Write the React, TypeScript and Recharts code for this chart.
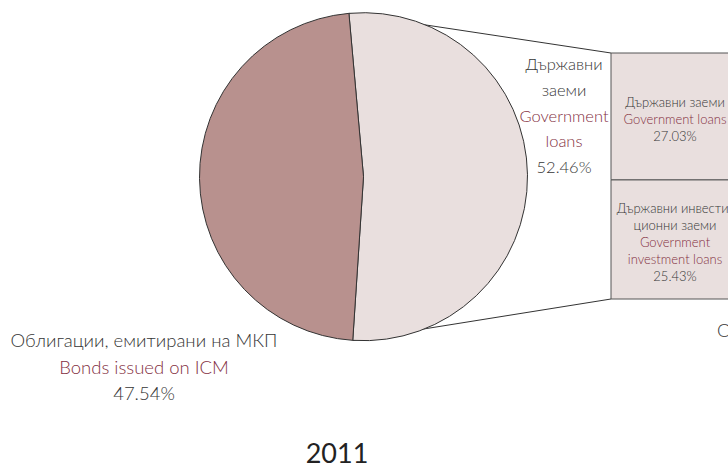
import React from 'react';
import { PieChart, Pie, Cell, BarChart, Bar, XAxis, YAxis } from 'recharts';

const PIE_NAMES = ['Government loans', 'Bonds issued on ICM'];
const PIE_VALUES = [52.46, 47.54];
const PIE_COLORS = ['#E9DFDE', '#B8918E'];

const BAR_KEYS = ['investment', 'loans'];
const BAR_VALUES = [25.43, 27.03];
const BAR_LINES = [
  [
    { t: 'Държавни инвести-', c: 'bg' },
    { t: 'ционни заеми', c: 'bg' },
    { t: 'Government', c: 'en' },
    { t: 'investment loans', c: 'en' },
    { t: '25.43%', c: 'bg' },
  ],
  [
    { t: 'Държавни заеми', c: 'bg' },
    { t: 'Government loans', c: 'en' },
    { t: '27.03%', c: 'bg' },
  ],
];

const LOANS_LABEL = [
  { t: 'Държавни', c: 'bg' },
  { t: 'заеми', c: 'bg' },
  { t: 'Government', c: 'en' },
  { t: 'loans', c: 'en' },
  { t: '52.46%', c: 'bg' },
];
const BONDS_LABEL = [
  { t: 'Облигации, емитирани на МКП', c: 'bg' },
  { t: 'Bonds issued on ICM', c: 'en' },
  { t: '47.54%', c: 'bg' },
];
const YEAR = '2011';

const W = 728;
const H = 470;
const CX = 363.5;
const CY = 176.7;
const R = 164;
const START = 95.1;
const BAR_LEFT = 611;
const BAR_TOP = 53;
const BAR_BOTTOM = 299;

const INK = '#363636';
const WINE = '#84303F';
const FONT = 'Lato, "Open Sans", sans-serif';

const pieData = PIE_NAMES.map((name, i) => ({ name, value: PIE_VALUES[i] }));
const barRow: Record<string, number | string> = { name: YEAR };
BAR_KEYS.forEach((k, i) => (barRow[k] = BAR_VALUES[i]));
const barTotal = BAR_VALUES.reduce((a, b) => a + b, 0);
const pieTotal = PIE_VALUES.reduce((a, b) => a + b, 0);

function arcPoint(deg: number) {
  const a = (deg * Math.PI) / 180;
  return { x: CX + R * Math.cos(a), y: CY - R * Math.sin(a) };
}

function Lines({ x, y, lines, gap, size }: { x: number; y: number; lines: { t: string; c: string }[]; gap: number; size: number }) {
  const top = y - ((lines.length - 1) * gap) / 2;
  return (
    <text x={x} textAnchor="middle" fontFamily={FONT} fontWeight={300} fontSize={size}>
      {lines.map((l, i) => (
        <tspan key={i} x={x} y={top + i * gap} dominantBaseline="central" fill={l.c === 'en' ? WINE : INK}>
          {l.t}
        </tspan>
      ))}
    </text>
  );
}

function barLabel(idx: number) {
  return (props: any) => {
    const { x, y, width, height } = props;
    return <Lines x={x + width / 2} y={y + height / 2 + 3} lines={BAR_LINES[idx]} gap={17} size={13} />;
  };
}

export default function App() {
  const firstEnd = START - (360 * PIE_VALUES[0]) / pieTotal;
  const pTop = arcPoint(START);
  const pBottom = arcPoint(firstEnd);
  return (
    <div style={{ position: 'absolute', left: 0, top: 0, width: W, height: H, overflow: 'hidden', background: '#fff' }}>
      <svg width={W} height={H} style={{ position: 'absolute', left: 0, top: 0 }}>
        <line x1={pTop.x} y1={pTop.y} x2={BAR_LEFT} y2={BAR_TOP} stroke="#333" strokeWidth={1} />
        <line x1={pBottom.x} y1={pBottom.y} x2={BAR_LEFT} y2={BAR_BOTTOM} stroke="#333" strokeWidth={1} />
      </svg>
      <div style={{ position: 'absolute', left: 0, top: 0 }}>
        <PieChart width={W} height={H} margin={{ top: 0, right: 0, bottom: 0, left: 0 }}>
          <Pie
            data={pieData}
            dataKey="value"
            nameKey="name"
            cx={CX}
            cy={CY}
            outerRadius={R}
            startAngle={START}
            endAngle={START - 360}
            stroke="#333"
            strokeWidth={1}
            isAnimationActive={false}
          >
            {pieData.map((d, i) => (
              <Cell key={d.name} fill={PIE_COLORS[i]} />
            ))}
          </Pie>
        </PieChart>
      </div>
      <div style={{ position: 'absolute', left: BAR_LEFT - 3, top: BAR_TOP - 3 }}>
        <BarChart
          width={134}
          height={BAR_BOTTOM - BAR_TOP + 6}
          data={[barRow]}
          margin={{ top: 3, right: 3, bottom: 3, left: 3 }}
          barCategoryGap={0}
          barGap={0}
        >
          <XAxis dataKey="name" hide />
          <YAxis hide domain={[0, barTotal]} />
          {BAR_KEYS.map((k, i) => (
            <Bar
              key={k}
              dataKey={k}
              stackId="s"
              fill="#E9DFDE"
              stroke="#555"
              strokeWidth={1}
              label={barLabel(i)}
              isAnimationActive={false}
            />
          ))}
        </BarChart>
      </div>
      <svg width={W} height={H} style={{ position: 'absolute', left: 0, top: 0, pointerEvents: 'none' }}>
        <Lines x={564} y={115.5} lines={LOANS_LABEL} gap={25.8} size={16.5} />
        <Lines x={144} y={366.5} lines={BONDS_LABEL} gap={26.5} size={18.5} />
        <text x={717} y={330} dominantBaseline="central" fontFamily={FONT} fontWeight={300} fontSize={18.5} fill={INK}>
          Облигации
        </text>
        <text x={337} y={452} textAnchor="middle" dominantBaseline="central" fontFamily={FONT} fontSize={27} fill="#222">
          {YEAR}
        </text>
      </svg>
    </div>
  );
}
